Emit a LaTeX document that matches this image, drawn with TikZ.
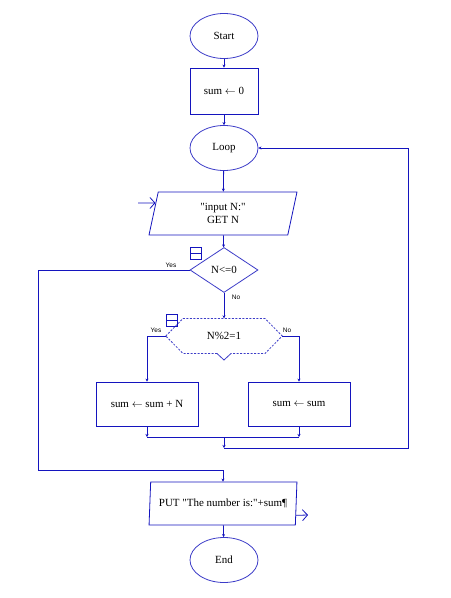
\documentclass[tikz,border=0pt]{standalone}
\usepackage{fontspec}
\setmainfont{Liberation Serif}[Ligatures=TeXOff]
\newfontfamily\lblfont{Liberation Sans}
\usetikzlibrary{arrows.meta,shapes.geometric,calc}
\definecolor{fc}{RGB}{20,20,190}
\definecolor{ec}{RGB}{60,60,200}
\tikzset{
  every node/.style={font=\fontsize{11}{13}\selectfont, text=black},
  ellbox/.style={ellipse, draw=ec, thick, minimum width=68bp, minimum height=45bp, inner sep=0pt},
  procbox/.style={rectangle, draw=fc, thick, minimum width=68bp, minimum height=46bp, inner sep=0pt},
  iobox/.style={trapezium, trapezium left angle=81, trapezium right angle=99, trapezium stretches=true, draw=fc, thick, minimum width=148bp, minimum height=43bp, inner sep=0pt, align=center},
  decbox/.style={diamond, draw=ec, thick, minimum width=68bp, minimum height=45bp, inner sep=0pt},
  conn/.style={draw=fc, thick, -{Stealth[length=3bp,width=3bp]}},
  wire/.style={draw=fc, thick},
  openarrow/.style={draw=fc, thick, -{Straight Barb[length=5bp,width=11bp]}},
  lbl/.style={font=\lblfont\fontsize{6.5}{7.5}\selectfont},
}
\begin{document}
\begin{tikzpicture}[x=1bp,y=-1bp]
\useasboundingbox[fill=white] (0,0) rectangle (451,598);

\node[ellbox] (start) at (224,36) {Start};
\node[procbox] (init) at (224,91) {sum $\leftarrow$ 0};
\node[ellbox] (loop) at (224,148) {Loop};
\node[iobox] (input) at (223,213.5) {"input N:"\\GET N};
\node[decbox] (d1) at (224,270) {N<=0};
\node[minimum width=116bp, minimum height=35bp, inner sep=0pt] (d2) at (224,336) {N\%2=1};
\node[procbox, minimum width=102bp, minimum height=44bp] (lbox) at (147,404) {sum $\leftarrow$ sum + N};
\node[procbox, minimum width=102bp, minimum height=44bp] (rbox) at (299,404) {sum $\leftarrow$ sum};
\node[iobox] (out) at (223,503.5) {PUT "The number is:"+sum¶};
\node[ellbox] (end) at (224,560) {End};

% dashed hexagon of the second decision
\draw[draw=ec, thick, dash pattern=on 2bp off 1.5bp]
  (d2.west) -- (183,318.5) -- (265,318.5) -- (d2.east) -- (265,353.5) -- (231,353.5);
\draw[draw=ec, thick, dash pattern=on 2bp off 1.5bp]
  (217,353.5) -- (183,353.5) -- (d2.west);
\draw[draw=ec, thick] (217,353.5) -- (224,360) -- (231,353.5);

% collapse icons
\draw[draw=fc, thick] (190,247) rectangle (201,259) (190,253) -- (201,253);
\draw[draw=fc, thick] (166,314) rectangle (177,326) (166,320) -- (177,320);

% coordinates
\coordinate (inA) at (138,203);
\coordinate (inB) at ($(input.top left corner)!0.26!(input.bottom left corner)$);
\coordinate (outA) at ($(out.top right corner)!0.77!(out.bottom right corner)$);
\coordinate (outB) at (308,515);
\coordinate (c1) at (38,470);
\coordinate (m1) at (224,437);
\coordinate (m2) at (224,448);
\coordinate (c2) at (408,448);

% connectors
\draw[conn] (start) -- (init);
\draw[conn] (init) -- (loop);
\draw[conn] (loop) -- (input);
\draw[conn] (input) -- (d1);
\draw[conn] (d1.south) -- (d2.north);
\draw[conn] (d1.west) -| (c1) -| (out.north);
\draw[conn] (d2.west) -| (lbox.north);
\draw[conn] (d2.east) -| (rbox.north);
\draw[conn] (lbox.south) -- (lbox.south |- m1);
\draw[conn] (rbox.south) -- (rbox.south |- m1);
\draw[wire] (lbox.south |- m1) -- (rbox.south |- m1);
\draw[conn] (m1) -- (m2);
\draw[conn] (m2) -- (c2) |- (loop.east);
\draw[conn] (out) -- (end);
\draw[openarrow] (inA) -- (inB);
\draw[openarrow] (outA) -- (outB);

% labels
\node[lbl] (y1) at (171,265) {Yes};
\node[lbl] (n1) at (236,297) {No};
\node[lbl] (y2) at (156,330) {Yes};
\node[lbl] (n2) at (287,330) {No};
\end{tikzpicture}
\end{document}
